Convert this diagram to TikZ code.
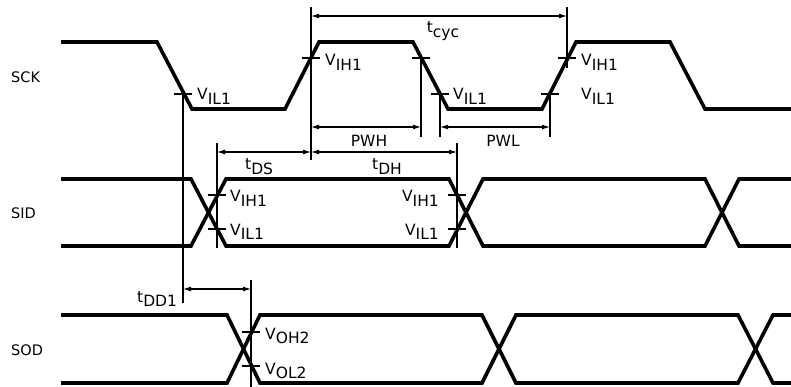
\documentclass[tikz,border=0pt]{standalone}
\usepackage{fontspec}
\setmainfont{DejaVu Sans}
\usetikzlibrary{arrows.meta,calc}
\newcommand{\vsub}[2]{#1\raisebox{-0.28em}{#2}}

\begin{document}
\begin{tikzpicture}[x=1pt, y=-1pt,
    wave/.style={line width=3.6pt, line join=miter},
    guide/.style={line width=1.1pt},
    dimline/.style={line width=1.1pt, {Latex[length=8pt,width=5pt]}-{Latex[length=8pt,width=5pt]}},
    lbl/.style={font=\fontsize{15.5}{17}\selectfont, inner sep=0pt},
    signame/.style={font=\fontsize{14.5}{16}\selectfont, inner sep=0pt, anchor=west}]
    \useasboundingbox (0,0) rectangle (791,387);

    % Signal names
    \foreach \sname/\y in {SCK/77, SID/213, SOD/350}
        \node[signame] (n\sname) at (11,\y) {\sname};

    % SCK
    \draw[wave] (61,42) -- (157,42) -- (192,109) -- (285,109) -- (319,42) -- (413,42)
        -- (448,109) -- (542,109) -- (576,42) -- (670,42) -- (705,109) -- (791,109);

    % SID and SOD (hi/lo/edges)
    \foreach \hi/\lo/\a/\b/\c/\d/\e/\f in {179/246/191/226/449/483/705/739, 315/383/227/260/482/516/738/773} {
        \draw[wave] (61,\hi) -- (\a,\hi) -- (\b,\lo) -- (\c,\lo) -- (\d,\hi) -- (\e,\hi) -- (\f,\lo) -- (791,\lo);
        \draw[wave] (61,\lo) -- (\a,\lo) -- (\b,\hi) -- (\c,\hi) -- (\d,\lo) -- (\e,\lo) -- (\f,\hi) -- (791,\hi);
    }

    % Measuring points
    \coordinate (sckL1) at (183,94);
    \coordinate (sckH1) at (311,58);
    \coordinate (sckH2) at (421,58);
    \coordinate (sckL2) at (440,94);
    \coordinate (sckL3) at (550,94);
    \coordinate (sckH3) at (567,58);
    \coordinate (sidH1) at (217,195);
    \coordinate (sidL1) at (217,229);
    \coordinate (sidH2) at (457,195);
    \coordinate (sidL2) at (457,229);
    \coordinate (sodH) at (251,332);
    \coordinate (sodL) at (251,366);

    % Ticks
    \foreach \p in {sckL1,sckH1,sckH2,sckL2,sckL3,sckH3,sidH1,sidL1,sidH2,sidL2,sodH,sodL}
        \draw[guide] ($(\p)+(-9,0)$) -- ($(\p)+(9,0)$);

    % Extension lines
    \draw[guide] (sckL1) -- ++(0,209);
    \draw[guide] ($(sckH1)+(0,-51)$) -- ++(0,153);
    \draw[guide] (sckH2) -- ++(0,79);
    \draw[guide] (sckL2) -- ++(0,43);
    \draw[guide] (sckL3) -- ++(0,43);
    \draw[guide] ($(sckH3)+(0,-51)$) -- ++(0,61);
    \draw[guide] ($(sidH1)+(0,-52)$) -- ++(0,105);
    \draw[guide] ($(sidH2)+(0,-52)$) -- ++(0,105);
    \draw[guide] ($(sodH)+(0,-52)$) -- ++(0,107);

    % Timings
    \draw[dimline] (sckH1 |- 0,16) -- (sckH3 |- 0,16);
    \draw[dimline] (sckH1 |- 0,127) -- (sckH2 |- 0,127);
    \draw[dimline] (sckL2 |- 0,127) -- (sckL3 |- 0,127);
    \draw[dimline] (sidH1 |- 0,152) -- (sckH1 |- 0,152);
    \draw[dimline] (sckH1 |- 0,152) -- (sidH2 |- 0,152);
    \draw[dimline] (sckL1 |- 0,289) -- (sodH |- 0,289);

    \node[lbl, anchor=base] (tcyc) at (443,33) {\vsub{t}{cyc}};
    \node[lbl, anchor=base] (pwh) at (369,147) {PWH};
    \node[lbl, anchor=base] (pwl) at (503,147) {PWL};
    \node[lbl, anchor=base west] (tds) at (245,170) {\vsub{t}{DS}};
    \node[lbl, anchor=base west] (tdh) at (372,170) {\vsub{t}{DH}};
    \node[lbl, anchor=base west] (tdd) at (137,302) {\vsub{t}{DD1}};

    % Levels
    \foreach \n/\x/\y/\a/\s in {vilA/197/100/base west/IL1, vihA/325/66/base west/IH1,
            vilB/453/100/base west/IL1, vihB/581/66/base west/IH1, vilC/581/100/base west/IL1,
            vihD/230/202/base west/IH1, vilD/230/235/base west/IL1,
            vihE/439/202/base east/IH1, vilE/439/235/base east/IL1,
            vohF/265/339/base west/OH2, volF/265/374/base west/OL2}
        \node[lbl, anchor=\a] (\n) at (\x,\y) {\vsub{V}{\s}};
\end{tikzpicture}
\end{document}
